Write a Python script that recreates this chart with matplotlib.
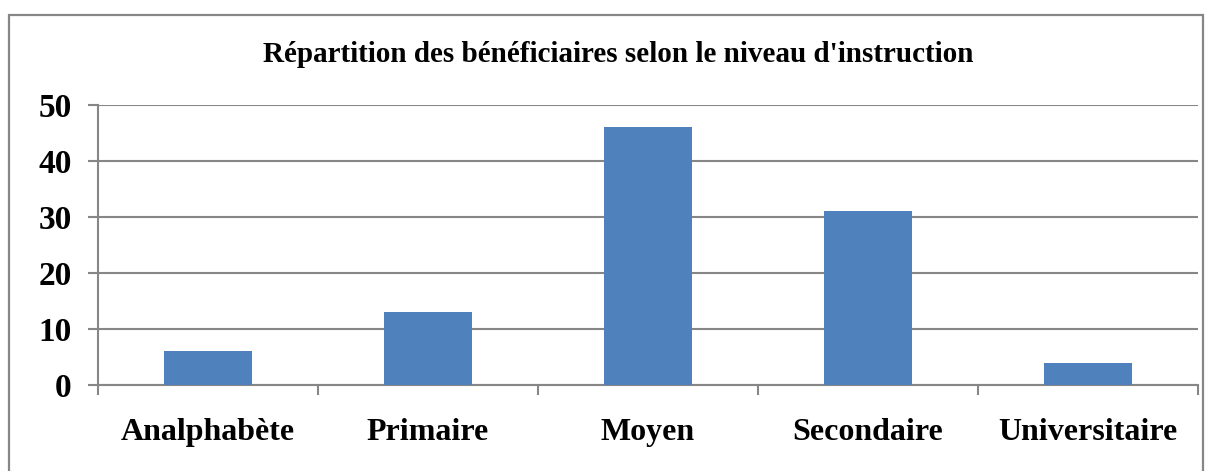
import matplotlib
matplotlib.use("Agg")
import matplotlib.pyplot as plt
from matplotlib.patches import Rectangle
import numpy as np

categories = ["Analphabète", "Primaire", "Moyen", "Secondaire", "Universitaire"]
values = [6, 13, 46, 31, 4]
yticks = [0, 10, 20, 30, 40, 50]
title = "Répartition des bénéficiaires selon le niveau d'instruction"

W, H = 1213, 471
GRID = "#868686"
BAR = "#4F81BD"

plt.rcParams["font.family"] = ["Liberation Serif", "DejaVu Serif"]
plt.rcParams["font.weight"] = "bold"

fig = plt.figure(figsize=(W / 100, H / 100), dpi=100)
fig.patch.set_facecolor("white")

# outer chart frame (bottom edge falls below the picture)
fig.add_artist(Rectangle((9 / W, -0.1), (1203 - 9) / W, 1.1 - 15 / H,
                         transform=fig.transFigure, fill=False,
                         edgecolor=GRID, linewidth=1.6))

left, right, top, bottom = 98, 1198, 105, 385
ax = fig.add_axes([left / W, (H - bottom) / H, (right - left) / W, (bottom - top) / H])

x = np.arange(len(categories))
ax.bar(x, values, width=0.4, color=BAR, zorder=3)

ax.set_xlim(-0.5, len(categories) - 0.5)
ax.set_ylim(0, 50)
ax.set_yticks(yticks)
ax.set_yticklabels([str(v) for v in yticks], fontsize=24, fontweight="bold")
ax.yaxis.grid(True, color=GRID, linewidth=1.5, zorder=0)

# category boundaries as major ticks, labels at centres
ax.set_xticks(np.arange(-0.5, len(categories), 1.0))
ax.set_xticklabels([])
ax.set_xticks(x, minor=True)
ax.set_xticklabels(categories, minor=True, fontsize=23, fontweight="bold")
ax.tick_params(axis="x", which="minor", length=0, pad=24)
ax.tick_params(axis="x", which="major", length=7, width=1.5, color=GRID)
ax.tick_params(axis="y", length=7, width=1.5, color=GRID, pad=12)

for s in ["top", "right"]:
    ax.spines[s].set_visible(False)
for s in ["left", "bottom"]:
    ax.spines[s].set_color(GRID)
    ax.spines[s].set_linewidth(1.5)

fig.text(618 / W, 1 - 55 / H, title, ha="center", va="center",
         fontsize=21, fontweight="bold")

fig.savefig("out.png", dpi=100)
